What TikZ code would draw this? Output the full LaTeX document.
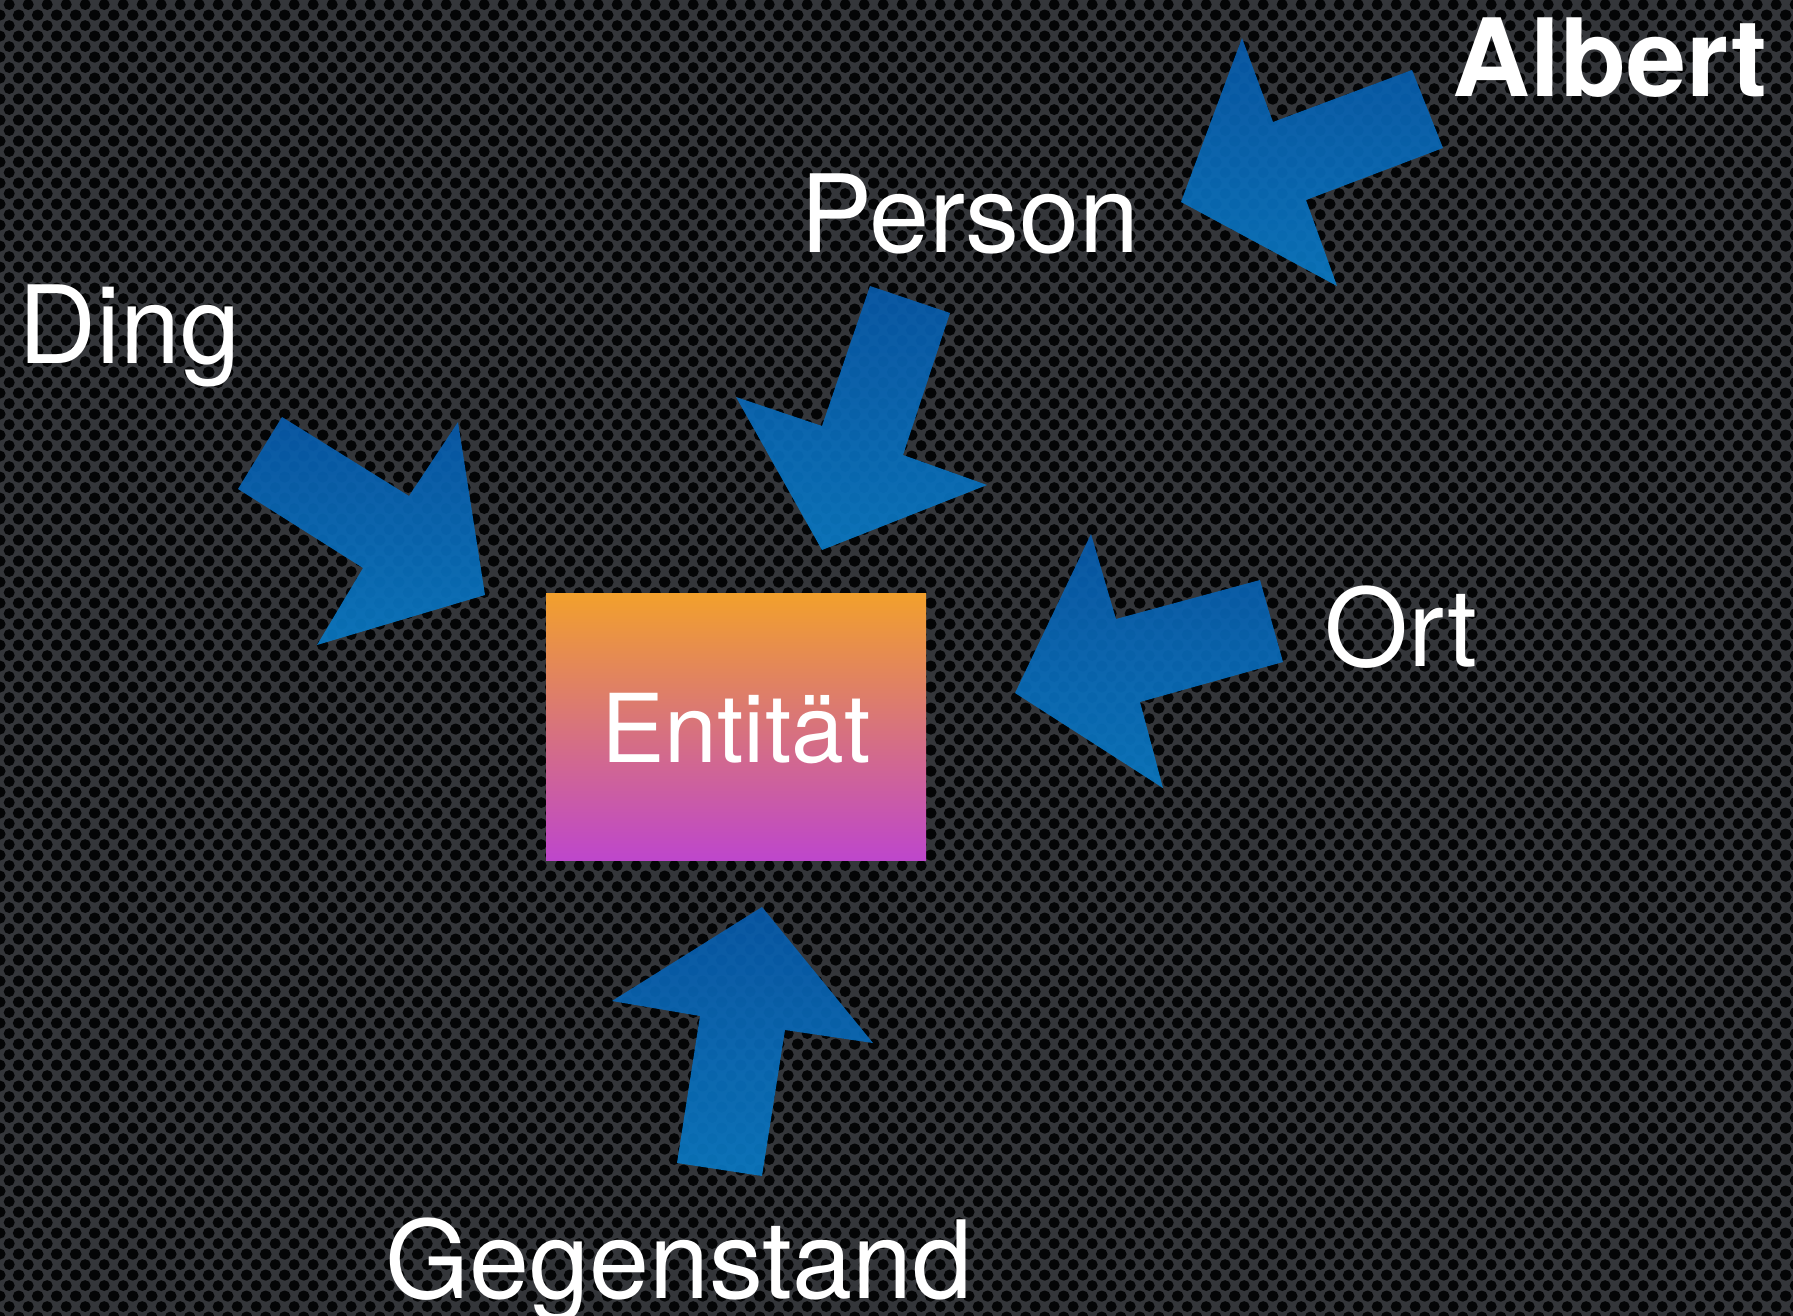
\documentclass[tikz,border=0pt]{standalone}
\usepackage{fontspec}
\setmainfont{TeX Gyre Heros}
\usetikzlibrary{patterns.meta}

\definecolor{meshgray}{RGB}{52,54,58}
\definecolor{holeblack}{RGB}{4,5,6}
\definecolor{arrowdark}{RGB}{8,90,170}
\definecolor{arrowlight}{RGB}{10,120,194}
\definecolor{entorange}{RGB}{242,160,44}
\definecolor{entpink}{RGB}{220,108,138}
\definecolor{entmagenta}{RGB}{190,70,204}

\tikzdeclarepattern{
  name=holes, type=uncolored,
  bottom left={(0pt,0pt)}, top right={(18.7pt,21.4pt)},
  tile size={(18.7pt,21.4pt)},
  code={
    \fill (9.35pt,10.7pt) circle (5.6pt);
    \fill (0pt,0pt) circle (5.6pt);
    \fill (18.7pt,0pt) circle (5.6pt);
    \fill (0pt,21.4pt) circle (5.6pt);
    \fill (18.7pt,21.4pt) circle (5.6pt);
  }
}

\begin{document}
\begin{tikzpicture}[x=1pt,y=-1pt]
        \tikzstyle{blockarrow}=[top color=arrowdark,bottom color=arrowlight,fill opacity=0.93]
        \tikzstyle{entity}=[top color=entorange,middle color=entpink,bottom color=entmagenta]
        \tikzstyle{word}=[text=white,font=\fontsize{108}{120}\selectfont,anchor=base,inner sep=0pt]
        \tikzstyle{entityword}=[word,font=\fontsize{95}{110}\selectfont]
        \useasboundingbox (0,0) rectangle (1793,1316);
        % perforated background
        \fill[meshgray] (0,0) rectangle (1793,1316);
        \fill[pattern=holes,pattern color=holeblack] (0,0) rectangle (1793,1316);
        % block arrows
        \path[blockarrow] (1181,202) -- (1242,38) -- (1273,122) -- (1412,70) -- (1443,148) -- (1306,200) -- (1337,286) -- cycle;
        \path[blockarrow] (822,550) -- (736,397) -- (822,426) -- (870,286) -- (950,313) -- (903,455) -- (987,485) -- cycle;
        \path[blockarrow] (485,595) -- (317,645) -- (363,568) -- (238,489) -- (282,417) -- (409,496) -- (458,422) -- cycle;
        \path[blockarrow] (1015,693) -- (1091,534) -- (1116,619) -- (1260,580) -- (1283,662) -- (1140,702) -- (1163,788) -- cycle;
        \path[blockarrow] (762,907) -- (873,1043) -- (785,1030) -- (762,1176) -- (677,1163) -- (700,1016) -- (612,1001) -- cycle;
        % centre
        \fill[entity] (546,593) rectangle (926,860);
        \node[entityword] (entitaet) at (736,762) {Entität};
        % labels
        \node[word] (ding) at (130,363) {Ding};
        \node[word] (person) at (970,252) {Person};
        \node[word] (ort) at (1401,666) {Ort};
        \node[word] (gegenstand) at (679,1298) {Gegenstand};
        \node[word,font=\bfseries\fontsize{108}{120}\selectfont] (albert) at (1610,97) {Albert};
\end{tikzpicture}
\end{document}
